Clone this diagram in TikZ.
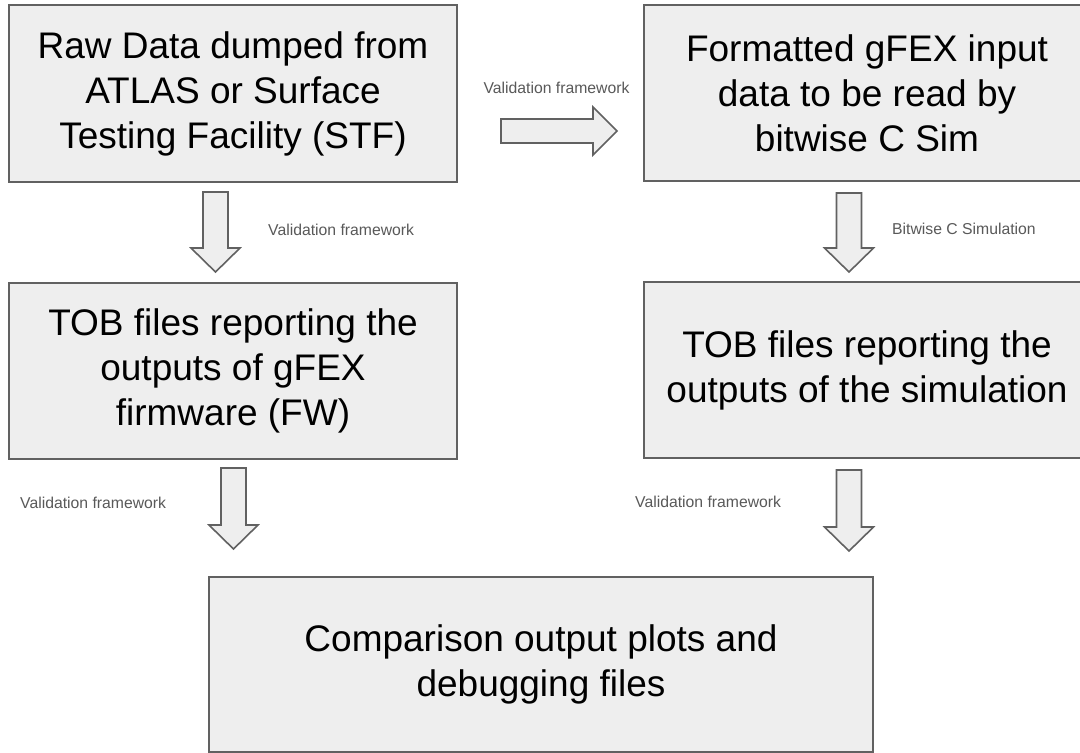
\documentclass[tikz,border=0pt]{standalone}
\usepackage{fontspec}
\setmainfont{Liberation Sans}
\usetikzlibrary{calc}
\definecolor{boxfill}{HTML}{EEEEEE}
\definecolor{boxline}{HTML}{616161}
\definecolor{lbl}{HTML}{595959}
\tikzset{
  flowbox/.style={draw=boxline, fill=boxfill, line width=1.6pt, align=center,
    font=\fontsize{37}{45}\selectfont, inner sep=0pt},
  blockarrow/.style={draw=boxline, fill=boxfill, line width=1.6pt, line join=miter},
  steplabel/.style={text=lbl, font=\fontsize{15.75}{19}\selectfont, inner sep=0pt},
}
\newcommand{\blockdown}[2]{%
  \draw[blockarrow] ($(#1)+(-12.5,0)$) -- ++(25,0) -- ++(0,#2) -- ++(12,0)
    -- ++(-24.5,24) -- ++(-24.5,-24) -- ++(12,0) -- cycle;}
\begin{document}
\begin{tikzpicture}[x=1pt,y=-1pt]
\useasboundingbox (0,0) rectangle (1080,753);
\fill[white] (0,0) rectangle (1080,753);
% boxes
\node[flowbox, minimum width=448pt, minimum height=177pt] (b1) at (233,93.5)
  {Raw Data dumped from\\ATLAS or Surface\\Testing Facility (STF)};
\node[flowbox, minimum width=446pt, minimum height=176pt] (b2) at (867,93)
  {Formatted gFEX input\\data to be read by\\bitwise C Sim};
\node[flowbox, minimum width=448pt, minimum height=176pt] (b3) at (233,371)
  {TOB files reporting the\\outputs of gFEX\\firmware (FW)};
\node[flowbox, minimum width=446pt, minimum height=176pt] (b4) at (867,370)
  {TOB files reporting the\\outputs of the simulation};
\node[flowbox, minimum width=664pt, minimum height=175pt] (b5) at (541,664.5)
  {Comparison output plots and\\debugging files};
% arrow anchors
\coordinate (h1) at (501,131);
\coordinate (a1) at (215.5,192);
\coordinate (a2) at (849,193);
\coordinate (a3) at (233.5,468);
\coordinate (a4) at (849,470);
% block arrows
\draw[blockarrow] ($(h1)+(0,-12)$) -- ++(92,0) -- ++(0,-12) -- ++(24,24)
  -- ++(-24,24) -- ++(0,-12) -- ++(-92,0) -- cycle;
\blockdown{a1}{56}
\blockdown{a2}{55}
\blockdown{a3}{57}
\blockdown{a4}{57}
% labels
\node[steplabel] (l0) at (556.5,88) {Validation framework};
\node[steplabel, anchor=west] (l1) at (268,230) {Validation framework};
\node[steplabel, anchor=west] (l2) at (892,229) {Bitwise C Simulation};
\node[steplabel, anchor=west] (l3) at (20,503) {Validation framework};
\node[steplabel, anchor=west] (l4) at (635,502) {Validation framework};
\end{tikzpicture}
\end{document}
